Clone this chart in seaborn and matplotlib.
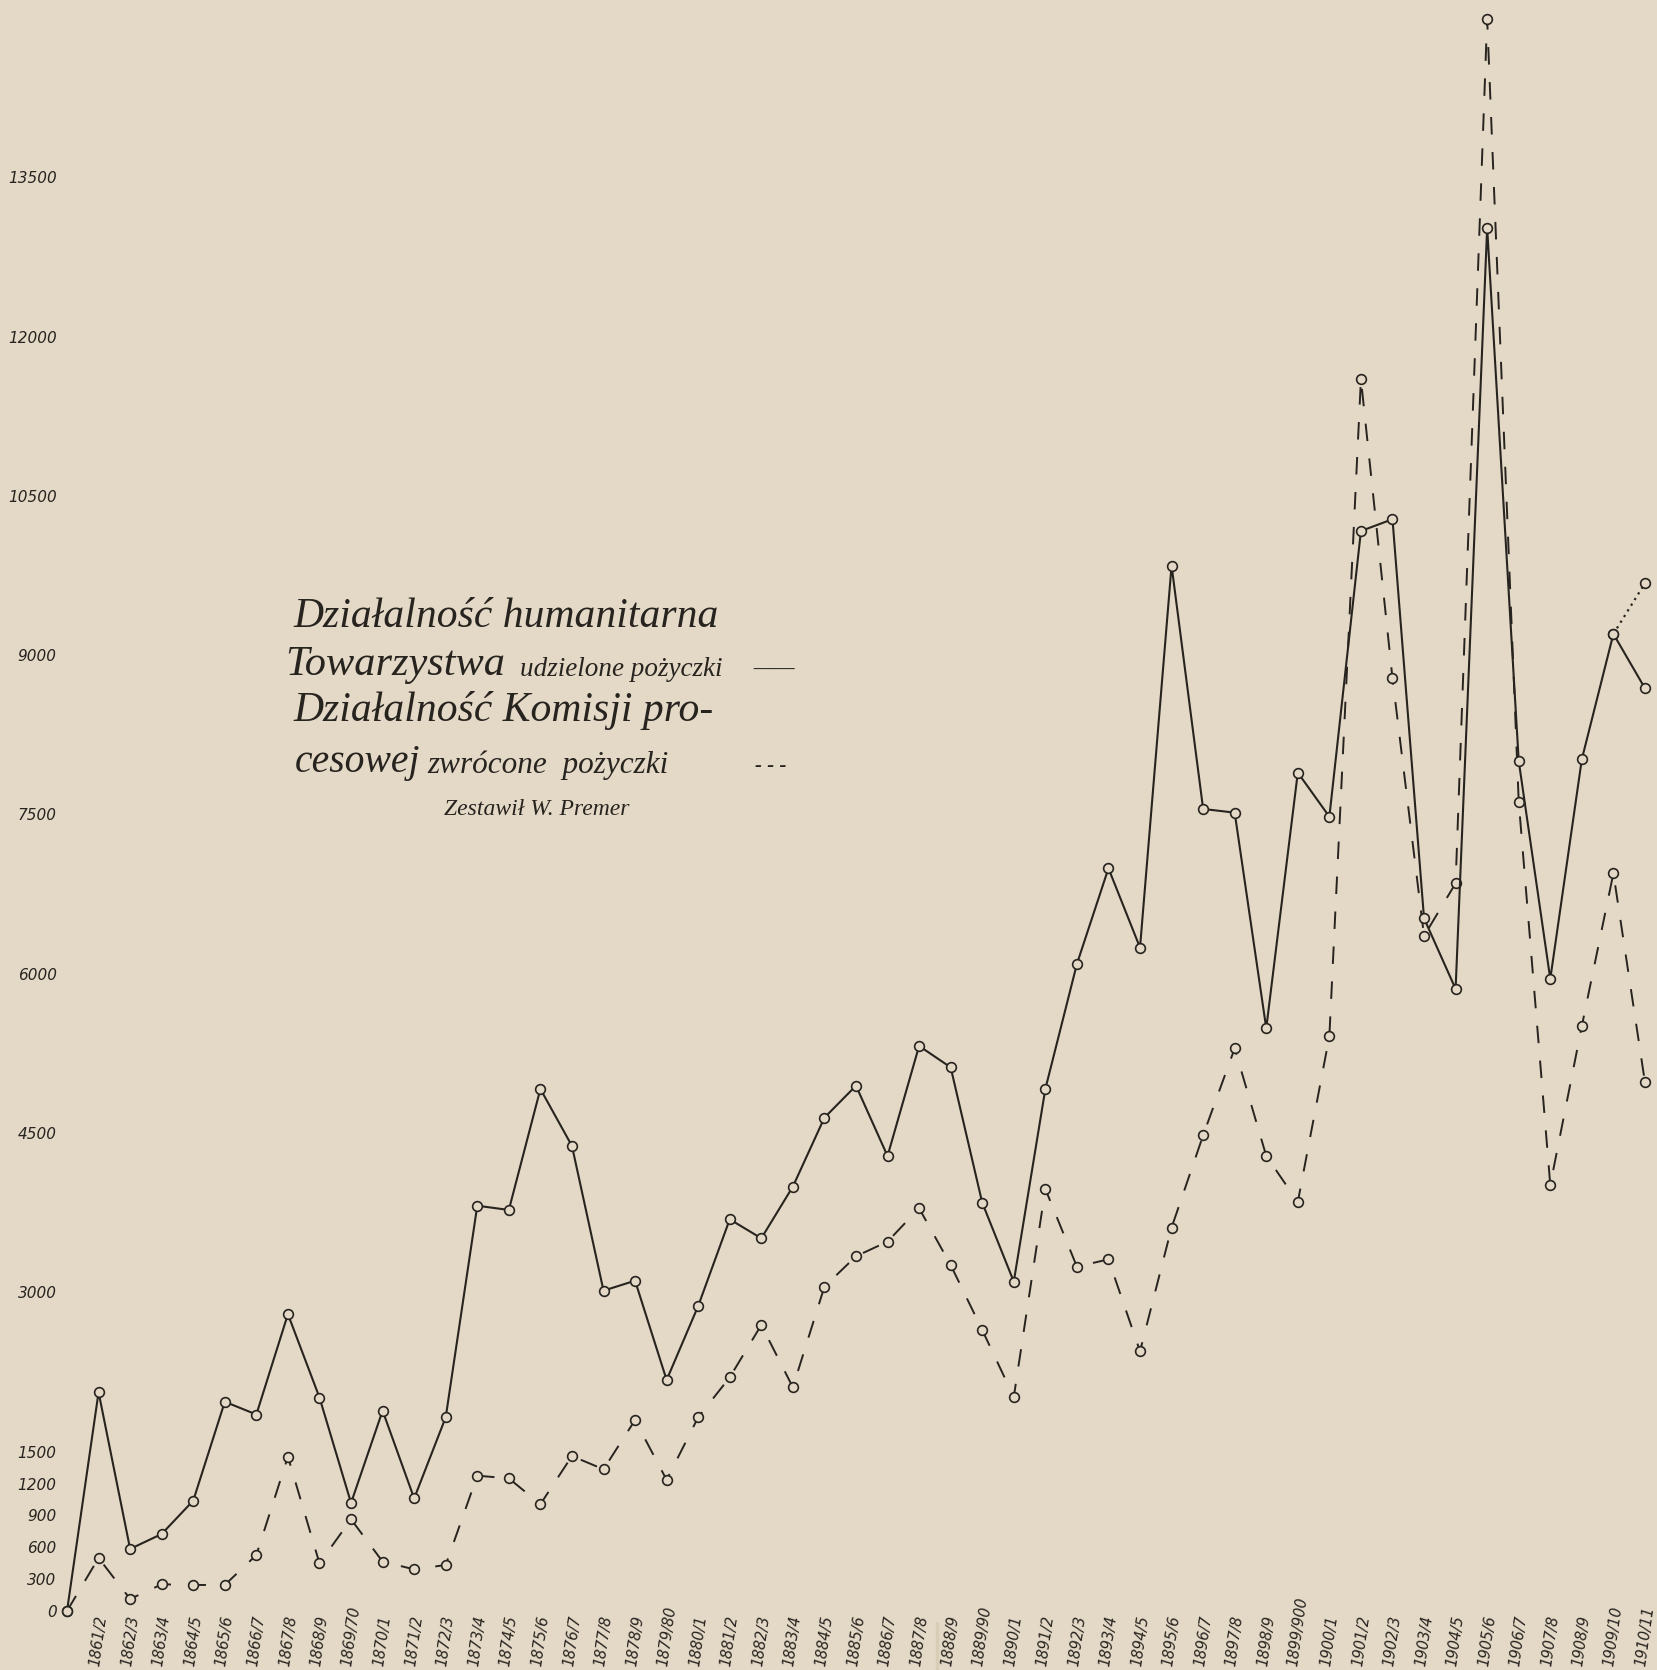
import numpy as np
import pandas as pd
import matplotlib
matplotlib.use("Agg")
import matplotlib.pyplot as plt
import seaborn as sns

# --- dane ---
sezony = ['1860/1', '1861/2', '1862/3', '1863/4', '1864/5', '1865/6', '1866/7', '1867/8', '1868/9',
          '1869/70', '1870/1', '1871/2', '1872/3', '1873/4', '1874/5', '1875/6', '1876/7', '1877/8',
          '1878/9', '1879/80', '1880/1', '1881/2', '1882/3', '1883/4', '1884/5', '1885/6', '1886/7',
          '1887/8', '1888/9', '1889/90', '1890/1', '1891/2', '1892/3', '1893/4', '1894/5', '1895/6',
          '1896/7', '1897/8', '1898/9', '1899/900', '1900/1', '1901/2', '1902/3', '1903/4', '1904/5',
          '1905/6', '1906/7', '1907/8', '1908/9', '1909/10', '1910/11']

# udzielone pozyczki (linia ciagla)
udzielone = [0, 2060, 584, 725, 1039, 1970, 1850, 2795, 2010, 1017,
             1886, 1060, 1824, 3816, 3776, 4915, 4379, 3016, 3110, 2175,
             2872, 3688, 3509, 3996, 4645, 4946, 4284, 5320, 5119, 3845,
             3101, 4915, 6092, 6993, 6246, 9843, 7552, 7517, 5487, 7894,
             7479, 10169, 10280, 6522, 5857, 13023, 8004, 5951, 8020, 9200,
             8688]

# zwrocone pozyczki (linia przerywana)
zwrocone = [0, 499, 113, 251, 245, 245, 527, 1453, 449, 863,
            465, 392, 433, 1274, 1249, 1005, 1459, 1334, 1798, 1234,
            1824, 2200, 2693, 2106, 3054, 3340, 3478, 3792, 3258, 2646,
            2015, 3974, 3242, 3311, 2445, 3610, 4479, 5298, 4285, 3851,
            5411, 11598, 8782, 6356, 6852, 14990, 7621, 4011, 5508, 6946,
            4978]

# odcinek kropkowany na koncu
szacunek_sezony = ['1909/10', '1910/11']
szacunek = [9200, 9677]

y_ticks = [0, 300, 600, 900, 1200, 1500, 3000, 4500, 6000, 7500, 9000, 10500, 12000, 13500]

W, H = 1657, 1670
papier = '#e4d9c6'
tusz = '#27231f'

sns.set_theme(style="white")
plt.rcParams['font.family'] = ['DejaVu Sans']
plt.rcParams['lines.scale_dashes'] = True

pozycja = {s: i for i, s in enumerate(sezony)}
df = pd.DataFrame({'x': list(range(len(sezony))), 'udzielone': udzielone, 'zwrocone': zwrocone})
df_sz = pd.DataFrame({'x': [pozycja[s] for s in szacunek_sezony], 'y': szacunek})

fig = plt.figure(figsize=(W / 100, H / 100), dpi=100, facecolor=papier)
# os: x=0 -> 67 px, krok 31.56 px ; y=0 -> 1611 px, 0.1062 px na jednostke
ax = fig.add_axes([60.7 / W, 48.4 / H, (1656 - 60.7) / W, 1 - 48.4 / H])
ax.set_facecolor(papier)

# zgiecie papieru
fig.add_artist(plt.Line2D([937 / W, 937 / W], [0, 1], transform=fig.transFigure,
                          color='#d4c8b2', lw=2.5, alpha=0.7, zorder=0))

marker_kw = dict(marker='o', markersize=7, markerfacecolor=papier,
                 markeredgecolor=tusz, markeredgewidth=1.2)

sns.lineplot(data=df, x='x', y='zwrocone', ax=ax, color=tusz, lw=1.4,
             linestyle=(0, (9, 9)), sort=False, zorder=3, **marker_kw)
sns.lineplot(data=df_sz, x='x', y='y', ax=ax, color=tusz, lw=1.6,
             linestyle=(0, (1, 2)), sort=False, zorder=3, **marker_kw)
sns.lineplot(data=df, x='x', y='udzielone', ax=ax, color=tusz, lw=1.5,
             sort=False, zorder=4, **marker_kw)

ax.set_xlim(-0.2, 50.35)
ax.set_ylim(-100, 15169)
sns.despine(ax=ax, left=True, bottom=True)
ax.grid(False)
ax.set_xlabel('')
ax.set_ylabel('')

ax.set_xticks(range(1, len(sezony)))
ax.set_xticklabels(sezony[1:], rotation=82, fontstyle='italic', fontsize=10.5,
                   color=tusz, va='bottom', ha='center')
ax.set_yticks(y_ticks)
ax.set_yticklabels([str(v) for v in y_ticks], fontstyle='italic', fontsize=11, color=tusz)
ax.tick_params(axis='x', length=0, pad=33)
ax.tick_params(axis='y', length=0, pad=3)

# --- opis (legenda odreczna) ---
def napis(px, py, tekst, size, ha='left', weight='normal'):
    fig.text(px / W, 1 - py / H, tekst, fontsize=size, ha=ha, va='center', color=tusz,
             family=['Liberation Serif', 'DejaVu Serif'], fontstyle='italic', fontweight=weight)

napis(293, 617, 'Działalność humanitarna', 30)
napis(285, 665, 'Towarzystwa', 30.5)
napis(520, 669, 'udzielone pożyczki', 19.5)
napis(753, 670, '——', 15, weight='bold')
napis(293, 710, 'Działalność Komisji pro-', 30)
napis(295, 762, 'cesowej', 28.5)
napis(427, 765, 'zwrócone  pożyczki', 22.5)
napis(755, 766, '- - -', 15, weight='bold')
napis(537, 810, 'Zestawił W. Premer', 17, ha='center')

fig.savefig('out.png', dpi=100, facecolor=papier)
